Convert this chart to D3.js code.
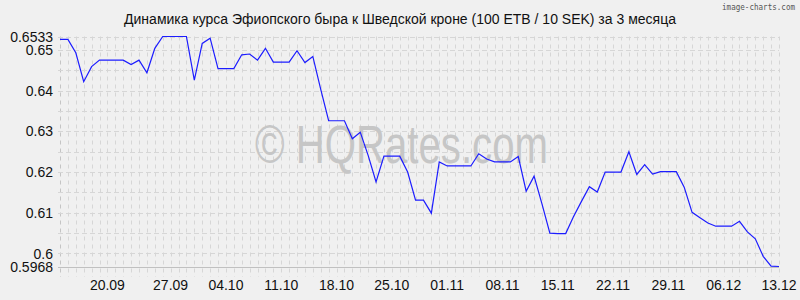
<!DOCTYPE html>
<html>
<head>
<meta charset="utf-8">
<script src="https://cdn.jsdelivr.net/npm/d3@7"></script>
<style>
  body { margin: 0; background: #f0f0f0; }
  text { font-family: "Liberation Sans", Arial, sans-serif; }
</style>
</head>
<body>
<svg id="chart" width="800" height="300"></svg>
<script>
// Kurs ETB/SEK, et punkt per dag (92 dage)
var rates = [
  0.6526, 0.6526, 0.6493, 0.6422, 0.6459, 0.6475, 0.6475, 0.6475, 0.6475, 0.6464,
  0.6475, 0.6444, 0.6504, 0.6533, 0.6533, 0.6533, 0.6533, 0.6426, 0.6516, 0.6529,
  0.6454, 0.6454, 0.6454, 0.6488, 0.6490, 0.6475, 0.6504, 0.6470, 0.6470, 0.6470,
  0.6498, 0.6469, 0.6484, 0.6403, 0.6326, 0.6326, 0.6326, 0.6282, 0.6298, 0.6241,
  0.6176, 0.6239, 0.6239, 0.6239, 0.6200, 0.6131, 0.6131, 0.6099, 0.6225, 0.6215,
  0.6215, 0.6215, 0.6215, 0.6245, 0.6232, 0.6225, 0.6225, 0.6225, 0.6238, 0.6153,
  0.6190, 0.6122, 0.6050, 0.6049, 0.6049, 0.6091, 0.6128, 0.6164, 0.6151, 0.6200,
  0.6200, 0.6200, 0.6250, 0.6194, 0.6218, 0.6195, 0.6201, 0.6201, 0.6201, 0.6163,
  0.6101, 0.6088, 0.6075, 0.6067, 0.6067, 0.6067, 0.6079, 0.6053, 0.6036, 0.5993,
  0.5969, 0.5968
];

// Datolabels og deres placering (dagsindeks)
var tickIndex = [6, 14, 21, 28, 35, 42, 49, 56, 63, 70, 77, 84, 91];
var tickLabels = ["20.09", "27.09", "04.10", "11.10", "18.10", "25.10", "01.11",
                  "08.11", "15.11", "22.11", "29.11", "06.12", "13.12"];

// Y-aksens labels og gitterlinjer
var yLabels = [0.5968, 0.6, 0.61, 0.62, 0.63, 0.64, 0.65, 0.6533];
var yGrid = [0.6, 0.605, 0.61, 0.615, 0.62, 0.625, 0.63, 0.635, 0.64, 0.645, 0.65, 0.6533];

var yMin = 0.5968, yMax = 0.6533;

var svg = d3.select("#chart");

var x = d3.scaleLinear()
    .domain([0, rates.length - 1])
    .range([60, 779]);

var y = d3.scaleLinear()
    .domain([yMin, yMax])
    .range([266.5, 36.5]);

// Baggrund
svg.append("rect")
    .attr("width", 800)
    .attr("height", 300)
    .attr("fill", "#f0f0f0");

// Lodrette gitterlinjer, en per dag
svg.append("g")
    .selectAll("line")
    .data(d3.range(rates.length))
    .enter().append("line")
        .attr("x1", d => Math.round(x(d)) + 0.5)
        .attr("x2", d => Math.round(x(d)) + 0.5)
        .attr("y1", y(yMax))
        .attr("y2", 277)
        .attr("stroke", d => d === 0 ? "#c4c4c4" : "#d6d6d6")
        .attr("stroke-dasharray", "4,4");

// Vandret gitter
svg.append("g")
    .selectAll("line")
    .data(yGrid)
    .enter().append("line")
        .attr("x1", 58)
        .attr("x2", 779)
        .attr("y1", d => Math.round(y(d)) + 0.5)
        .attr("y2", d => Math.round(y(d)) + 0.5)
        .attr("stroke", "#d6d6d6")
        .attr("stroke-dasharray", "5,3");

// Bundakse
svg.append("line")
    .attr("x1", 58)
    .attr("x2", 779)
    .attr("y1", Math.round(y(yMin)) + 0.5)
    .attr("y2", Math.round(y(yMin)) + 0.5)
    .attr("stroke", "#c0c0c0");

// Vandmærke
svg.append("text")
    .attr("x", 255)
    .attr("y", 163)
    .attr("textLength", 293)
    .attr("lengthAdjust", "spacingAndGlyphs")
    .style("font-size", "54px")
    .attr("fill", "#c6c6c6")
    .text("© HQRates.com");

// Kurven
var line = d3.line()
    .x((d, i) => x(i))
    .y(d => y(d));

svg.append("path")
    .datum(rates)
    .attr("d", line)
    .attr("fill", "none")
    .attr("stroke", "#1c1cff")
    .attr("stroke-width", 1.2);

// Y labels
svg.append("g")
    .selectAll("text")
    .data(yLabels)
    .enter().append("text")
        .attr("x", 53)
        .attr("y", d => y(d))
        .attr("dy", "0.36em")
        .attr("text-anchor", "end")
        .style("font-size", "14px")
        .attr("fill", "#111")
        .text(d => d);

// X labels
svg.append("g")
    .selectAll("text")
    .data(tickIndex)
    .enter().append("text")
        .attr("x", d => x(d))
        .attr("y", 290)
        .attr("text-anchor", "middle")
        .style("font-size", "14px")
        .attr("fill", "#111")
        .text((d, i) => tickLabels[i]);

// Titel
svg.append("text")
    .attr("x", 400)
    .attr("y", 24)
    .attr("text-anchor", "middle")
    .style("font-size", "14px")
    .attr("fill", "#111")
    .text("Динамика курса Эфиопского быра к Шведской кроне (100 ETB / 10 SEK) за 3 месяца");

svg.append("text")
    .attr("x", 795)
    .attr("y", 10)
    .attr("text-anchor", "end")
    .attr("textLength", 73)
    .attr("lengthAdjust", "spacingAndGlyphs")
    .style("font-family", "'DejaVu Sans Mono', monospace")
    .style("font-size", "8px")
    .attr("fill", "#555")
    .text("image-charts.com");
</script>
</body>
</html>
